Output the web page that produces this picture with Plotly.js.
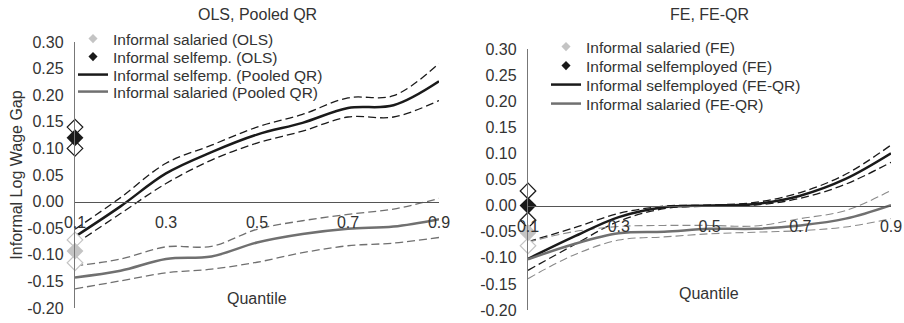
<!DOCTYPE html>
<html><head><meta charset="utf-8">
<script src="https://cdn.plot.ly/plotly-3.0.1.min.js"></script>
<style>html,body{margin:0;padding:0;background:#fff}#chart{width:904px;height:323px}</style>
</head><body><div id="chart"></div>
<script>
// ---- data ----
var quantiles = [0.1,0.2,0.3,0.4,0.5,0.6,0.7,0.8,0.9];
var xTickVals = [0.1,0.3,0.5,0.7,0.9];
var xTickText = ['0.1','0.3','0.5','0.7','0.9'];
var yTickVals = [-0.2,-0.15,-0.1,-0.05,0,0.05,0.1,0.15,0.2,0.25,0.3];
var yTickText = ['-0.20','-0.15','-0.10','-0.05','0.00','0.05','0.10','0.15','0.20','0.25','0.30'];

// Left panel: OLS, Pooled QR
var olsQ = [0.1];
var olsSelf = [0.12];
var olsSelfCI = [0.10, 0.14];
var olsSal = [-0.093];
var olsSalCI = [-0.115, -0.072];
var qrSelf   = [-0.066,-0.009,0.053,0.093,0.126,0.148,0.176,0.181,0.226];
var qrSelfHi = [-0.052,0.0075,0.072,0.106,0.140,0.164,0.195,0.199,0.260];
var qrSelfLo = [-0.080,-0.0225,0.034,0.078,0.110,0.1325,0.159,0.159,0.190];
var qrSal    = [-0.1425,-0.130,-0.108,-0.103,-0.077,-0.061,-0.051,-0.047,-0.033];
var qrSalHi  = [-0.121,-0.108,-0.085,-0.084,-0.052,-0.036,-0.024,-0.014,0.006];
var qrSalLo  = [-0.164,-0.149,-0.134,-0.127,-0.114,-0.096,-0.083,-0.078,-0.0675];

// Right panel: FE, FE-QR
var feSelf = [0.0];
var feSelfCI = [-0.028, 0.028];
var feSal = [-0.052];
var feSalCI = [-0.077, -0.027];
var fqSelf   = [-0.102,-0.060,-0.022,-0.003,0.000,0.003,0.019,0.051,0.100];
var fqSelfHi = [-0.069,-0.043,-0.015,-0.001,0.001,0.006,0.025,0.060,0.116];
var fqSelfLo = [-0.124,-0.076,-0.030,-0.006,-0.001,0.001,0.014,0.041,0.083];
var fqSal    = [-0.103,-0.074,-0.053,-0.050,-0.0445,-0.0445,-0.038,-0.025,0.001];
var fqSalHi  = [-0.070,-0.050,-0.040,-0.038,-0.038,-0.039,-0.025,-0.0095,0.029];
var fqSalLo  = [-0.140,-0.095,-0.066,-0.060,-0.054,-0.051,-0.048,-0.041,-0.025];

// legend labels
var legLeft  = ['Informal salaried (OLS)','Informal selfemp. (OLS)','Informal selfemp. (Pooled QR)','Informal salaried (Pooled QR)'];
var legRight = ['Informal salaried (FE)','Informal selfemployed (FE)','Informal selfemployed (FE-QR)','Informal salaried (FE-QR)'];

// ---- styles ----
var BLACK = '#1a1a1a', GRAY = '#707070', LGRAY = '#c4c4c4';
var DASH = '8px,4px';
function line(x, y, color, width, dash, xa, ya, name, legend) {
  return {x:x, y:y, type:'scatter', mode:'lines', name:name||'', showlegend:!!legend,
    legend:legend||'legend', xaxis:xa, yaxis:ya, cliponaxis:false, hoverinfo:'skip',
    line:{color:color, width:width, dash:dash||'solid', shape:'spline', smoothing:1}};
}
function ciPts(xv, ci, color, xa, ya) {
  return {x:[xv[0], xv[0]], y:ci, type:'scatter', mode:'markers', showlegend:false,
    xaxis:xa, yaxis:ya, cliponaxis:false, hoverinfo:'skip',
    marker:{symbol:'diamond', size:12, color:'#ffffff', line:{color:color, width:1.2}}};
}
function pt(xv, yv, color, xa, ya) {
  return {x:xv, y:yv, type:'scatter', mode:'markers', showlegend:false,
    xaxis:xa, yaxis:ya, cliponaxis:false, hoverinfo:'skip',
    marker:{symbol:'diamond', size:13, color:color}};
}
// legend-only entry for the point estimates (small symbol, as in the reference key)
function ptKey(color, xa, ya, name, legend) {
  return {x:[null], y:[null], type:'scatter', mode:'markers', name:name, showlegend:true,
    legend:legend, xaxis:xa, yaxis:ya, hoverinfo:'skip',
    marker:{symbol:'diamond', size:7, color:color}};
}

var data = [
  // left
  line(quantiles, qrSelfHi, BLACK, 1.3, DASH, 'x', 'y'),
  line(quantiles, qrSelfLo, BLACK, 1.3, DASH, 'x', 'y'),
  line(quantiles, qrSalHi, GRAY, 1.3, DASH, 'x', 'y'),
  line(quantiles, qrSalLo, GRAY, 1.3, DASH, 'x', 'y'),
  line(quantiles, qrSelf, BLACK, 2.5, 'solid', 'x', 'y', legLeft[2], 'legend3'),
  line(quantiles, qrSal, GRAY, 2.5, 'solid', 'x', 'y', legLeft[3], 'legend4'),
  ciPts(olsQ, olsSelfCI, BLACK, 'x', 'y'),
  ciPts(olsQ, olsSalCI, LGRAY, 'x', 'y'),
  pt(olsQ, olsSal, LGRAY, 'x', 'y'),
  pt(olsQ, olsSelf, BLACK, 'x', 'y'),
  ptKey(LGRAY, 'x', 'y', legLeft[0], 'legend'),
  ptKey(BLACK, 'x', 'y', legLeft[1], 'legend2'),
  // right
  line(quantiles, fqSelfHi, BLACK, 1.3, DASH, 'x2', 'y2'),
  line(quantiles, fqSelfLo, BLACK, 1.3, DASH, 'x2', 'y2'),
  line(quantiles, fqSalHi, '#8a8a8a', 1.1, DASH, 'x2', 'y2'),
  line(quantiles, fqSalLo, '#8a8a8a', 1.1, DASH, 'x2', 'y2'),
  line(quantiles, fqSelf, BLACK, 2.5, 'solid', 'x2', 'y2', legRight[2], 'legend7'),
  line(quantiles, fqSal, GRAY, 2.5, 'solid', 'x2', 'y2', legRight[3], 'legend8'),
  ciPts(olsQ, feSalCI, LGRAY, 'x2', 'y2'),
  ciPts(olsQ, feSelfCI, BLACK, 'x2', 'y2'),
  pt(olsQ, feSal, LGRAY, 'x2', 'y2'),
  pt(olsQ, feSelf, BLACK, 'x2', 'y2'),
  ptKey(LGRAY, 'x2', 'y2', legRight[0], 'legend5'),
  ptKey(BLACK, 'x2', 'y2', legRight[1], 'legend6')
];

var W = 904, H = 323;
function px(v){return v/W;} function py(v){return 1 - v/H;}
var FONT = 'Liberation Sans, Arial, sans-serif';
var TXT = '#333333';

function xax(dom, pos) {
  return {domain:dom, range:[0.1,0.9], anchor:'free', position:pos,
    tickvals:xTickVals, ticktext:xTickText, showgrid:false, zeroline:false,
    showline:true, linecolor:'#555', linewidth:1.2, ticks:'', ticklabelstandoff:6,
    tickfont:{size:16, color:TXT, family:FONT}, fixedrange:true};
}
function yax(dom, anchorX, title) {
  var a = {domain:dom, range:[-0.2,0.3], anchor:anchorX,
    tickvals:yTickVals, ticktext:yTickText, showgrid:false, zeroline:false,
    showline:true, linecolor:'#777', linewidth:1.2, ticks:'', ticklabelstandoff:7,
    tickfont:{size:16, color:TXT, family:FONT}, automargin:false, fixedrange:true};
  if (title) a.title = {text:title, font:{size:16, color:TXT, family:FONT}, standoff:0};
  return a;
}
function leg(x, y) {
  return {visible:true, x:px(x), y:py(y), xanchor:'left', yanchor:'middle', bgcolor:'rgba(0,0,0,0)',
    font:{size:15.5, color:TXT, family:FONT}, itemwidth:30, borderwidth:0};
}
function ann(text, x, y) {
  return {text:text, x:px(x), y:py(y), xref:'paper', yref:'paper', xanchor:'center', yanchor:'middle',
    showarrow:false, font:{size:16, color:TXT, family:FONT}};
}

var layout = {
  width:W, height:H, margin:{l:0,r:0,t:0,b:0}, paper_bgcolor:'#fff', plot_bgcolor:'rgba(0,0,0,0)',
  font:{family:FONT, size:16, color:TXT}, showlegend:true,
  xaxis: xax([px(75), px(439)], py(202)),
  yaxis: yax([py(308), py(42)], 'x', 'Informal Log Wage Gap'),
  xaxis2: xax([px(528), px(891)], py(206)),
  yaxis2: yax([py(310), py(49)], 'x2'),
  legend: leg(73, 39), legend2: leg(73, 57), legend3: leg(73, 75), legend4: leg(73, 92),
  legend5: leg(546, 47), legend6: leg(546, 66), legend7: leg(546, 85), legend8: leg(546, 104),
  annotations:[
    ann('OLS, Pooled QR', 257, 14),
    ann('FE, FE-QR', 709, 14),
    ann('Quantile', 257, 298),
    ann('Quantile', 709, 293)
  ]
};
Plotly.newPlot('chart', data, layout, {staticPlot:true, displayModeBar:false});
</script>
</body></html>
